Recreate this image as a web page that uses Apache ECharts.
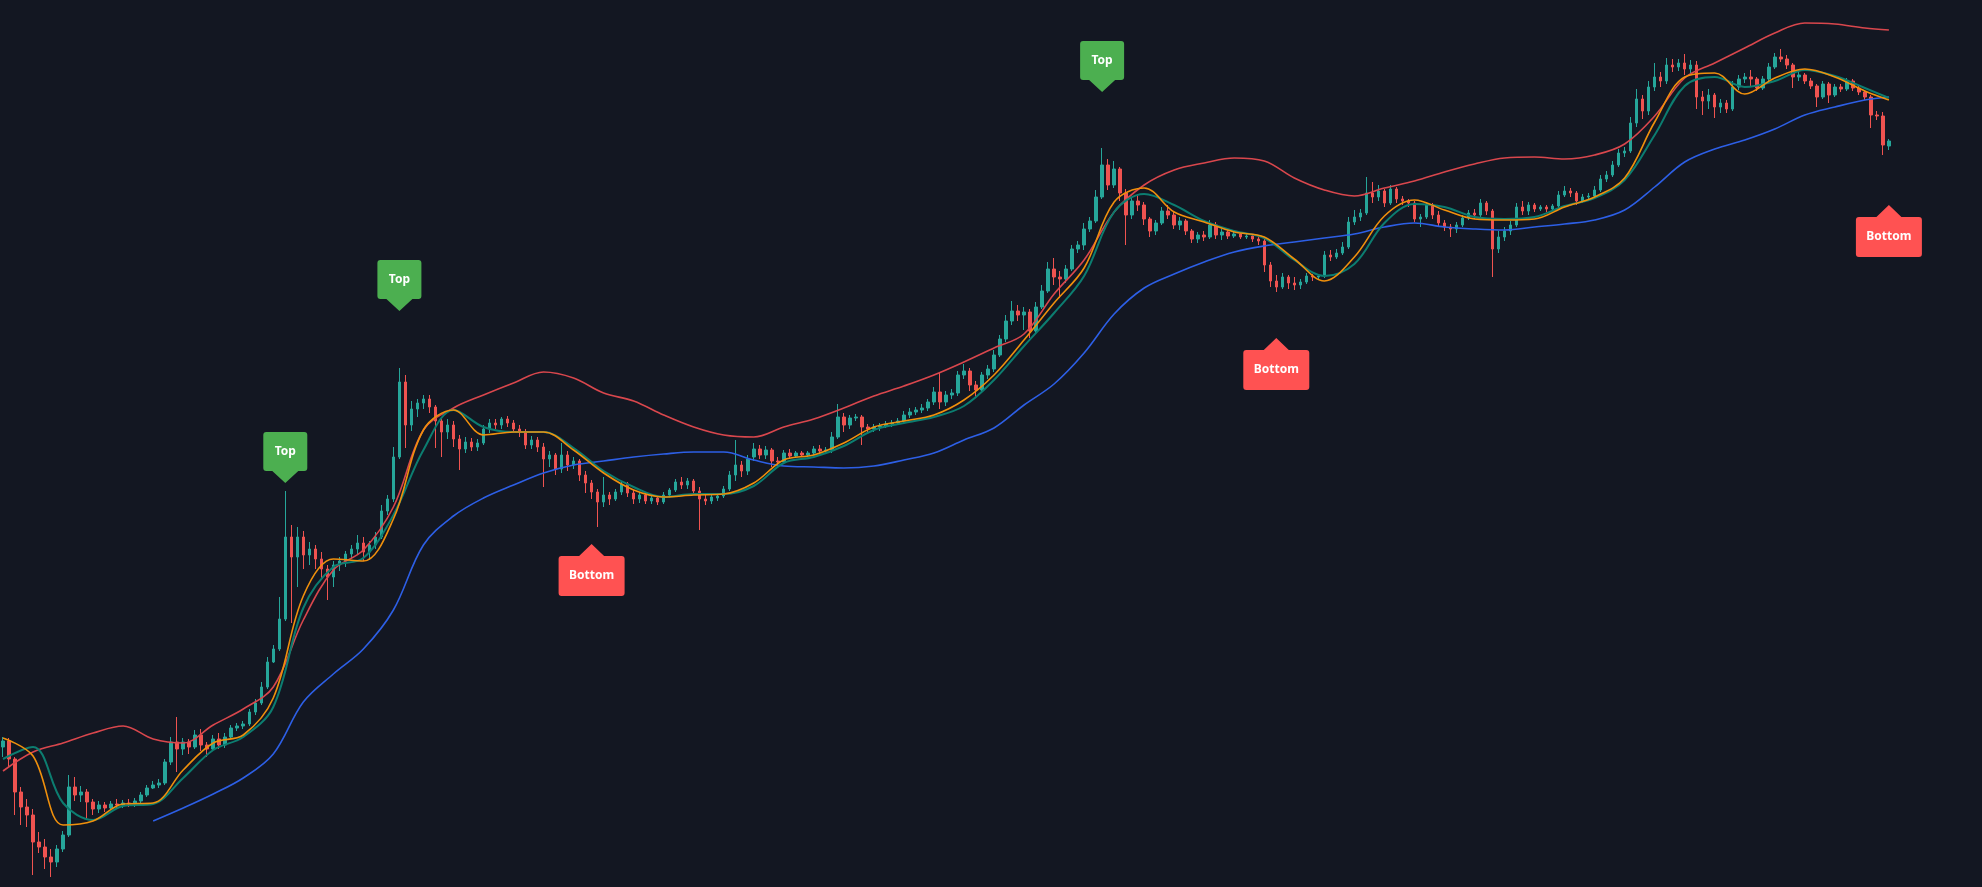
<!DOCTYPE html>
<html>
<head>
<meta charset="utf-8">
<script src="https://cdn.jsdelivr.net/npm/echarts/dist/echarts.min.js"></script>
<style>
html,body{margin:0;padding:0;background:#131722;overflow:hidden;}
#chart{width:1982px;height:887px;}
</style>
</head>
<body>
<div id="chart"></div>
<script>
// number of slots on the time axis (the last ones are empty, as in the reference)
const slotCount = 330;

// candles: [open, close, low, high] (price level units)
const candles = [
[140,146,130,150],[146,128,120,149],[128,95,72,130],[95,80,62,100],[80,72,60,88],
[72,45,12,78],[45,40,34,55],[40,30,18,48],[30,25,10,38],[25,38,20,42],
[38,52,35,56],[52,100,50,112],[100,92,86,110],[92,95,85,101],[95,85,68,98],
[85,78,72,88],[78,82,74,86],[82,79,75,85],[79,83,77,86],[83,82,78,88],
[82,84,79,87],[84,83,80,88],[83,86,80,89],[86,92,84,95],[92,99,90,102],
[99,102,98,106],[102,104,99,108],[104,125,102,128],[125,145,122,150],[145,138,115,170],
[138,145,132,149],[145,140,133,148],[140,152,138,157],[152,142,136,158],[142,138,130,145],
[138,148,136,152],[148,142,138,154],[142,150,139,154],[150,159,148,162],[159,161,156,164],
[161,163,158,166],[163,175,161,178],
[175,184,172,188],[184,200,182,205],[200,225,198,230],[225,238,224,242],[238,268,236,290],
[268,350,266,396],[350,330,264,362],[330,350,300,360],[350,332,318,356],[332,338,322,345],
[338,328,318,342],[328,318,308,335],[318,310,287,322],[310,322,300,326],[322,326,316,330],
[326,333,320,336],[333,338,328,342],[338,344,332,352],[344,335,326,350],[335,342,327,346],
[342,350,338,355],[350,376,348,382],[376,388,372,392],[388,430,385,440],[430,505,428,519],
[505,462,439,512],[462,478,456,486],[478,484,470,488],[484,488,478,492],[488,480,474,492],
[480,466,439,482],[466,455,430,470],[455,462,448,468],[462,448,440,466],[448,438,417,452],
[438,445,434,450],[445,440,436,449],[440,444,436,448],[444,458,442,462],[458,464,454,468],
[464,462,458,468],
[462,468,458,470],[468,464,460,471],[464,458,454,467],[458,455,450,462],[455,442,438,458],
[442,447,438,451],[447,440,435,450],[440,428,400,444],[428,432,420,436],[432,418,412,434],
[418,432,414,444],[432,422,416,436],[422,426,418,430],[426,412,406,428],[412,404,394,416],
[404,395,388,407],[395,385,360,398],[385,392,380,410],[392,388,382,395],[388,395,386,398],
[395,403,392,406],[403,394,390,405],[394,388,383,397],[388,392,384,395],[392,386,383,394],
[386,389,383,391],[389,385,382,391],[385,392,383,395],[392,397,389,399],[397,405,395,408],
[405,402,398,410],[402,406,398,409],[406,396,392,408],[396,388,357,400],[388,386,382,392],
[386,390,383,393],[389,391,386,393],[391,398,389,401],[398,412,396,416],[412,422,406,447],
[422,416,410,426],[416,428,412,432],
[430,438,426,444],[438,432,428,442],[432,437,428,441],[437,426,420,439],[426,425,420,430],
[425,434,423,437],[434,431,428,438],[431,434,429,436],[434,432,430,436],[432,434,430,436],
[434,438,432,441],[438,436,433,442],[436,437,433,440],[437,450,434,455],[450,470,448,483],
[470,462,455,474],[462,469,458,472],[469,470,466,473],[470,460,442,472],[460,458,454,463],
[458,460,455,463],[460,461,456,464],[461,463,459,466],[463,464,460,467],[464,466,462,469],
[466,472,464,476],[472,475,469,479],[475,477,472,480],[477,479,474,483],[479,485,476,488],
[485,495,482,500],[495,485,478,514],[485,492,481,496],[492,494,488,498],[494,512,491,516],
[512,516,508,523],[516,502,496,519],[502,497,490,506],[497,512,494,515],[512,518,508,522],
[518,532,515,537],[532,548,530,552],
[548,566,545,572],[566,576,562,586],[576,572,566,582],[572,575,557,580],[575,556,549,578],
[556,580,554,585],[580,596,578,602],[596,618,594,625],[618,610,602,629],[610,608,589,616],
[608,618,604,622],[618,638,616,642],[638,642,634,646],[642,658,637,664],[658,666,655,670],
[666,690,664,697],[690,722,688,739],[722,702,697,728],[702,718,699,726],[718,694,686,720],
[694,672,642,698],[672,686,668,690],[686,682,676,692],[682,668,662,685],[668,656,650,670],
[656,664,652,667],[664,676,662,680],[676,672,668,682],[672,662,658,676],[662,666,657,670],
[666,656,652,668],[656,648,644,658],[648,652,644,655],[652,650,646,656],[650,662,648,667],
[662,652,648,665],[652,655,647,658],[655,651,648,657],[651,653,649,656],[653,650,648,655],
[650,651,648,653],
[651,648,645,652],[648,646,642,651],[646,622,615,648],[622,606,600,625],[606,600,595,612],
[600,610,598,614],[610,604,598,612],[604,602,597,610],[602,605,598,608],[605,611,603,614],
[611,610,606,613],[610,611,607,613],[611,632,609,636],[632,630,626,637],[630,634,628,638],
[634,640,632,645],[640,665,638,670],[665,670,662,677],[670,674,666,678],[674,694,672,710],
[694,690,684,705],[690,696,686,702],[696,684,680,698],[684,698,682,702],[698,688,684,700],
[688,686,682,691],[686,684,680,688],[684,668,665,686],[668,670,660,673],[670,682,668,685],
[682,672,668,684],[672,664,660,676],[664,660,656,667],[660,658,650,663],[658,662,654,665],
[662,669,660,672],[669,674,667,677],[674,672,668,678],[672,684,670,688],[684,676,672,686],
[676,638,610,678],[638,650,634,656],
[650,656,646,660],[656,662,652,666],[662,680,660,684],[680,676,672,686],[676,682,672,685],
[682,678,675,684],[678,680,676,682],[680,678,675,682],[678,681,676,683],[681,692,679,696],
[692,696,690,701],[696,694,690,699],[694,686,682,696],[686,690,684,693],[690,691,687,694],
[691,697,689,701],[697,708,695,712],[708,712,705,716],[712,722,710,726],[722,734,720,738],
[734,736,730,740],[736,764,734,770],[764,788,760,798],[788,776,768,792],[776,800,772,806],
[800,810,796,824],[810,806,800,815],[806,822,803,829],[822,820,815,828],[820,824,816,828],
[824,818,812,833],[818,822,814,827],[822,790,778,826],[790,786,772,796],[786,792,778,798],
[792,780,769,794],[780,784,774,788],[784,778,774,787],[778,800,776,806],[800,808,797,812],
[808,810,804,814],
[810,808,800,817],[808,799,796,810],[799,808,797,811],[808,820,806,824],[820,830,818,834],
[830,828,825,838],[828,822,818,832],[822,810,799,824],[810,812,806,815],[812,806,803,814],
[806,801,798,809],[801,790,780,803],[790,803,788,806],[803,792,784,805],[792,800,790,803],
[800,798,795,803],[798,806,796,809],[806,799,796,808],[799,795,792,801],[795,790,787,797],
[790,772,759,792],[772,771,767,776],[771,742,732,775],[741,746,737,748]
];

// sample positions (slot index) for the envelope / average lines
const bandIdx = [0,5,10,15,20,25,30,35,40,45,50,55,60,65,70,75,80,85,90,95,100,105,110,115,120,125,130,135,140,145,150,155,160,165,170,175,180,185,190,195,200,205,210,215,220,225,230,235,240,245,250,255,260,265,270,275,280,285,290,295,300,305,310,314];

// upper band (red)
const upperBand = [116,135,144,154,161,148,144,162,178,200,267,317,337,380,457,479,492,504,515,509,494,486,472,460,452,450,460,468,479,491,501,512,525,539,553,593,627,675,702,717,724,729,726,709,697,691,699,706,715,723,729,730,728,732,743,771,809,824,839,854,864,863,859,857];
// fast average (orange)
const fastMA = [149,131,62,66,83,84,117,144,152,189,291,328,326,368,457,477,452,455,455,437,414,397,390,392,393,404,427,432,444,460,466,472,487,512,547,584,619,685,699,675,665,655,650,628,606,630,671,687,677,668,667,668,680,690,709,765,810,814,793,809,818,810,796,787];
// slow average (teal)
const slowMA = [128,140,84,67,81,83,109,137,150,180,279,320,329,372,437,477,460,455,455,439,416,400,390,393,393,401,424,430,441,457,464,470,481,507,541,574,611,675,693,682,666,656,649,627,611,623,664,683,680,670,668,670,681,689,707,752,801,810,800,806,817,811,799,789];
// lower band (blue)
const lowerBand = [null,null,null,null,null,66,79,93,109,133,185,213,238,277,342,371,389,402,414,422,426,430,433,435,435,427,421,420,419,421,427,434,447,459,482,503,534,573,599,613,625,635,641,645,649,653,660,664,660,658,657,660,663,667,677,700,725,738,747,758,772,780,787,790];

// signals: [slot index, price level of the pointer tip]
const topSignals = [[47,404],[66,576],[183,795]];
const bottomSignals = [[98,343],[212,549],[314,682]];
const topText = 'Top';
const bottomText = 'Bottom';

const categories = Array.from({length: slotCount}, (_, i) => 'D' + i);
const pairs = (vals) => bandIdx.map((ix, k) => vals[k] == null ? null : [ix, vals[k]]).filter(p => p);

const topPath = 'path://M3,0 H41 Q44,0 44,3 V36 Q44,39 41,39 H35 L22,51 L9,39 H3 Q0,39 0,36 V3 Q0,0 3,0 Z';
const bottomPath = 'path://M33,0 L45.5,12 H63 Q66,12 66,15 V49 Q66,52 63,52 H3 Q0,52 0,49 V15 Q0,12 3,12 H20.5 Z';

const lineSeries = (name, vals, color, width) => ({
  name, type: 'line', data: pairs(vals), smooth: 0.35,
  showSymbol: false, symbol: 'none', silent: true,
  lineStyle: {color, width}, z: 3
});

const chart = echarts.init(document.getElementById('chart'), null, {renderer: 'canvas'});
chart.setOption({
  backgroundColor: '#131722',
  animation: false,
  grid: {left: 0, right: 0, top: 0, bottom: 0},
  xAxis: {type: 'category', data: categories, boundaryGap: true, show: false},
  yAxis: {type: 'value', min: 0, max: 887, show: false, splitLine: {show: false}},
  series: [
    {
      type: 'candlestick', data: candles, barWidth: 3, z: 2,
      itemStyle: {color: '#26a69a', color0: '#ef5350', borderColor: '#26a69a', borderColor0: '#ef5350', borderWidth: 1}
    },
    lineSeries('upper', upperBand, '#d9474d', 1.6),
    lineSeries('lower', lowerBand, '#2d5fe6', 1.6),
    lineSeries('slow', slowMA, '#0c7d70', 2),
    lineSeries('fast', fastMA, '#f0900c', 1.6),
    {
      type: 'scatter', data: topSignals, symbol: topPath, symbolSize: [44, 51],
      symbolOffset: [0, -25.5], itemStyle: {color: '#4caf50', opacity: 1}, z: 5, silent: true,
      label: {show: true, position: 'inside', formatter: topText, color: '#ffffff', fontSize: 12,
              fontWeight: 'bold', fontFamily: 'Noto Sans', offset: [0, -6]}
    },
    {
      type: 'scatter', data: bottomSignals, symbol: bottomPath, symbolSize: [66, 52],
      symbolOffset: [0, 26], itemStyle: {color: '#ff5252', opacity: 1}, z: 5, silent: true,
      label: {show: true, position: 'inside', formatter: bottomText, color: '#ffffff', fontSize: 12,
              fontWeight: 'bold', fontFamily: 'Noto Sans', offset: [0, 6]}
    }
  ]
});
</script>
</body>
</html>
